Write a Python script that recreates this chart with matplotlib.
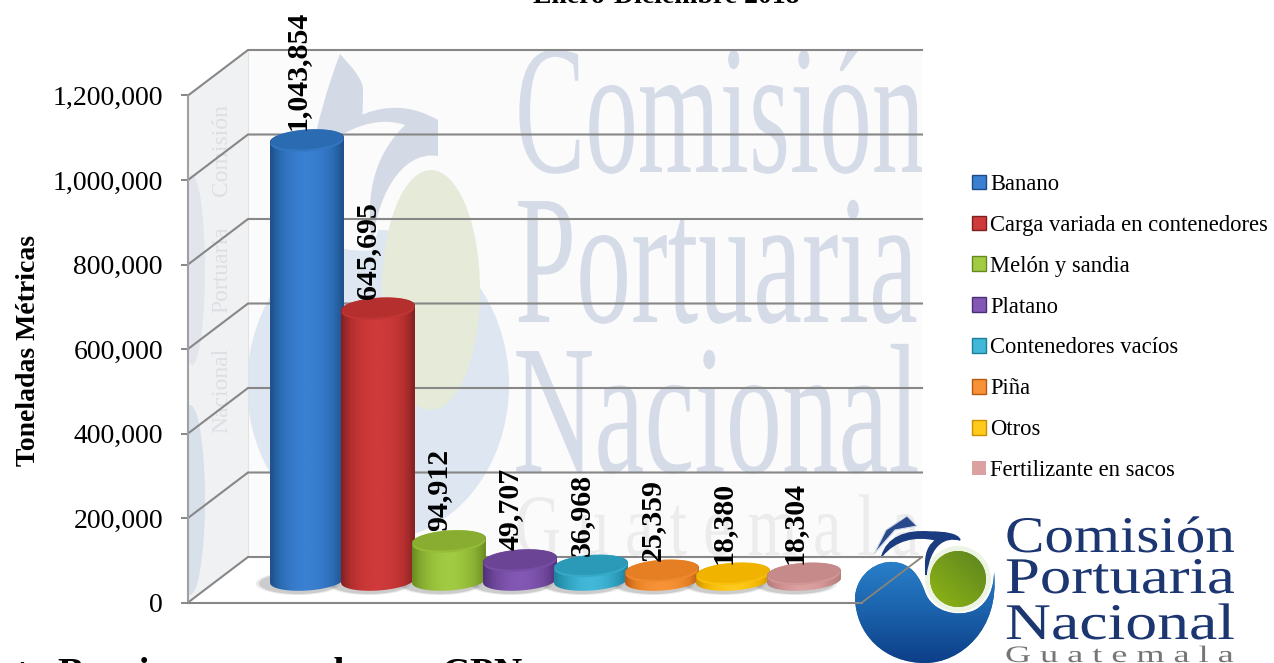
import numpy as np
import matplotlib
matplotlib.use("Agg")
import matplotlib.pyplot as plt
from matplotlib.colors import LinearSegmentedColormap, to_rgb
from matplotlib.patches import Circle, Ellipse, Patch, PathPatch, Polygon
from matplotlib.path import Path
from matplotlib.patheffects import AbstractPathEffect
from matplotlib.transforms import Affine2D, IdentityTransform

categories = ["Banano", "Carga variada en contenedores", "Melón y sandia", "Platano",
              "Contenedores vacíos", "Piña", "Otros", "Fertilizante en sacos"]
values = [1043854, 645695, 94912, 49707, 36968, 25359, 18380, 18304]
y_ticks = [0, 200000, 400000, 600000, 800000, 1000000, 1200000]

edge_colors = ["#1d4c85", "#7c2020", "#67881f", "#4c2e78", "#1b7f9a", "#b65812", "#c98f00", "#b07c7c"]
mid_colors = ["#3a80d2", "#cf3a3a", "#a0cb42", "#8358b4", "#42b8d8", "#f79336", "#ffca1c", "#dba0a0"]
cap_colors = ["#2b6bb2", "#b52f2f", "#88ad30", "#6b4496", "#2b9ab8", "#e67f23", "#f0b400", "#c78a8a"]

W, H = 1274, 663
FONT = "Liberation Serif"
GRID = "#878787"
DEPTH_X, DEPTH_Y = 60, 45.5   # back wall offset in pixels
FLOOR_Y = 22                  # bars stand this far behind the front edge
BAR_A, BAR_B = 37, 10         # ellipse radii of a cylinder
TILT = np.radians(4)


class Squeeze(AbstractPathEffect):
    """Stretches text horizontally about its left anchor."""
    def __init__(self, sx, x0):
        super().__init__()
        self.sx, self.x0 = sx, x0

    def draw_path(self, renderer, gc, tpath, affine, rgbFace=None):
        extra = Affine2D().translate(-self.x0, 0).scale(self.sx, 1).translate(self.x0, 0)
        renderer.draw_path(gc, tpath, affine + extra, rgbFace)


def px(x, y):
    return x, H - y


def add_px(artist_cls, *args, clip=None, **kwargs):
    patch = artist_cls(*args, transform=IdentityTransform(), clip_on=False, **kwargs)
    ax.add_artist(patch)
    if clip is not None:
        patch.set_clip_on(True)
        patch.set_clip_box(None)
        patch.set_clip_path(clip)
    return patch


def line_px(xs, ys, **kwargs):
    ax.plot(xs, [H - y for y in ys], transform=IdentityTransform(), clip_on=False, **kwargs)


def wide_text(x, y, s, size, width_scale, color, zorder=1.3, clip=None, **kwargs):
    t = ax.text(x, H - y, s, fontsize=size, family=FONT, color=color, zorder=zorder,
                va="baseline", ha="left", transform=IdentityTransform(), clip_on=False, **kwargs)
    t.set_path_effects([Squeeze(width_scale, x)])
    if clip is not None:
        t.set_clip_on(True)
        t.set_clip_box(None)
        t.set_clip_path(clip)
    return t


def curve(points, **kwargs):
    codes = [Path.MOVETO] + [Path.CURVE4] * (len(points) - 1)
    return add_px(PathPatch, Path([px(*p) for p in points], codes), **kwargs)


def ellipse_pts(cx, cy, start, stop):
    t = np.linspace(start, stop, 50)
    xs = BAR_A * np.cos(t)
    ys = BAR_B * np.sin(t)
    return np.column_stack([cx + xs * np.cos(TILT) - ys * np.sin(TILT),
                            cy + xs * np.sin(TILT) + ys * np.cos(TILT)])


def gradient_fill(array, cmap, box, shape, zorder):
    im = ax.imshow(array, cmap=cmap, aspect="auto", extent=box,
                   transform=IdentityTransform(), zorder=zorder)
    im.set_clip_box(fig.bbox)
    im.set_clip_path(shape)
    return im


fig = plt.figure(figsize=(W / 100, H / 100), dpi=100, facecolor="white")
ax = fig.add_axes([188 / W, (H - 602.5) / H, 674 / W, 507 / H], zorder=2)
ax.patch.set_visible(False)
xlim = ((188 - 307) / 71, (862 - 307) / 71)
ylim = (0, 1200000)
x_pos = np.arange(len(values))

# walls and floor
back_wall = add_px(Polygon, [px(248, 50), px(922, 50), px(922, 557), px(248, 557)],
                   facecolor="#fbfbfc", edgecolor="none", zorder=1.2)
left_wall = add_px(Polygon, [px(188, 95), px(248, 50), px(248, 557), px(188, 602)],
                   facecolor="#f0f1f3", edgecolor="none", zorder=1.2)
add_px(Polygon, [px(188, 602), px(248, 557), px(922, 557), px(862, 602)],
       facecolor="white", edgecolor="none", zorder=1.2)

# pale watermark on the walls
add_px(Ellipse, px(378, 385), 262, 310, facecolor="#dde6f1", edgecolor="none", zorder=1.25, clip=back_wall)
curve([(248, 50), (330, 50), (430, 130), (500, 240),
       (440, 150), (400, 150), (372, 250),
       (340, 255), (300, 230), (248, 250),
       (248, 200), (248, 100), (248, 50)], facecolor="#fbfbfc", edgecolor="none", zorder=1.26)
add_px(Ellipse, px(431, 290), 98, 240, facecolor="#e6ebd9", edgecolor="none", zorder=1.3)
curve([(340, 54), (350, 65), (362, 78), (363, 88),
       (363, 100), (363, 110), (362, 118),
       (350, 128), (330, 140), (310, 160),
       (318, 120), (328, 85), (340, 54)], facecolor="#d3dae6", edgecolor="none", zorder=1.3)
curve([(318, 150), (350, 110), (395, 95), (438, 120),
       (438, 130), (438, 145), (438, 156),
       (400, 150), (375, 200), (372, 250),
       (366, 200), (370, 160), (405, 125),
       (375, 115), (345, 130), (318, 150)], facecolor="#d3dae6", edgecolor="none", zorder=1.3)
add_px(Ellipse, px(190, 500), 30, 190, facecolor="#d8e0ea", edgecolor="none", zorder=1.25, clip=left_wall)
add_px(Ellipse, px(192, 270), 26, 190, facecolor="#e2e6ec", edgecolor="none", zorder=1.25, clip=left_wall)
for wy, word in [(150, "Comisión"), (270, "Portuaria"), (390, "Nacional")]:
    ax.text(222, H - wy, word, rotation=90, fontsize=17, family=FONT, color="#dcdfe3",
            ha="center", va="center", zorder=1.3, transform=IdentityTransform(), clip_on=False)

wide_text(515, 172, "Comisión", 133, 0.57, "#d5dce8", clip=back_wall)
wide_text(515, 322, "Portuaria", 133, 0.595, "#d5dce8", clip=back_wall)
wide_text(513, 472, "Nacional", 133, 0.61, "#d5dce8", clip=back_wall)
wide_text(515, 555, "G u a t e m a l a", 63, 0.73, "#ececec", clip=back_wall)

# bottom right logo, the chart lines run over it
logo_grad = LinearSegmentedColormap.from_list("logo", ["#2a83cc", "#1c63ad", "#0d3f88"])
logo_body = curve([(855, 596), (858, 572), (878, 561), (893, 562),
                   (912, 563), (920, 578), (925, 592),
                   (932, 612), (958, 618), (975, 610),
                   (990, 602), (994, 585), (994, 572),
                   (1000, 630), (960, 663), (925, 663),
                   (885, 663), (855, 635), (855, 596)], facecolor="#1c63ad", edgecolor="none", zorder=1.4)
gradient_fill(np.linspace(0, 1, 64).reshape(-1, 1), logo_grad, (855, 1000, H - 663, H - 555), logo_body, 1.41)
add_px(Circle, px(958, 579), 33, facecolor="#eef4e4", edgecolor="none", zorder=1.42)
ball = add_px(Circle, px(958, 579), 28, facecolor="#6f9a1c", edgecolor="none", zorder=1.43)
ball_grad = LinearSegmentedColormap.from_list("ball", ["#5c8420", "#8fb514"])
ball_x, ball_y = np.meshgrid(np.linspace(0, 1, 32), np.linspace(0, 1, 32))
gradient_fill(1 - ball_x * 0.5 - (1 - ball_y) * 0.5, ball_grad, (930, 986, H - 607, H - 551), ball, 1.44)
curve([(882, 556), (887, 538), (905, 530), (930, 532),
       (945, 532), (958, 534), (960, 540),
       (945, 536), (930, 544), (926, 575),
       (925, 560), (925, 548), (936, 540),
       (915, 535), (895, 540), (882, 556)], facecolor="#1a3b80", edgecolor="#1a3b80", lw=1, zorder=1.42)
add_px(Polygon, [px(874, 554), px(886, 530), px(907, 516), px(917, 526), px(895, 530)],
       facecolor="#2a4a8c", edgecolor="#cfd8e8", lw=0.8, zorder=1.42)
wide_text(1005, 552, "Comisión", 37, 1.15, "#1c3672", zorder=1.45)
wide_text(1005, 593, "Portuaria", 37, 1.22, "#1c3672", zorder=1.45)
wide_text(1005, 639, "Nacional", 37, 1.24, "#1c3672", zorder=1.45)
wide_text(1005, 662, "G u a t e m a l a", 17, 1.53, "#757575", zorder=1.45)

ax.set_xlim(*xlim)
ax.set_ylim(*ylim)
bar_tr = ax.transData + Affine2D().translate(0, FLOOR_Y)

# wall lines, taken from the y scale
for tick in y_ticks:
    x0, y0 = ax.transData.transform((xlim[0], tick))
    ax.plot([x0, x0 + DEPTH_X, 922], [y0, y0 + DEPTH_Y, y0 + DEPTH_Y], color=GRID, lw=1.5,
            transform=IdentityTransform(), clip_on=False, zorder=1.6, solid_joinstyle="miter")
line_px([188, 188], [95.5, 602.5], color="#a0a0a0", lw=1.5, zorder=1.6)
line_px([248, 248], [50, 557], color="#e2e2e2", lw=0.8, zorder=1.55)
line_px([862, 922], [602.5, 557], color="#8a8378", lw=1.3, zorder=1.6)

# cylinders
width_data = 74 / 71
bars = ax.bar(x_pos, values, width=width_data, transform=bar_tr, color=mid_colors)
for i, (bar, value) in enumerate(zip(bars, values)):
    z = 3 + i
    cx, base = bar_tr.transform((i, 0))
    _, top = bar_tr.transform((i, value))
    for grow, alpha in [(10, 0.12), (4, 0.2)]:
        add_px(Ellipse, (cx - 9, base - 3), 2 * BAR_A + grow, 2 * BAR_B + grow * 0.3,
               facecolor="#555555", edgecolor="none", alpha=alpha, zorder=2.5)
    outline = np.vstack([ellipse_pts(cx, base, np.pi, 2 * np.pi), ellipse_pts(cx, top, 0, np.pi)])
    shape = add_px(Polygon, outline, facecolor="none", edgecolor="none", zorder=z)
    bar.set_zorder(z)
    bar.set_clip_path(shape)
    cmap = LinearSegmentedColormap.from_list("c", [edge_colors[i], cap_colors[i], mid_colors[i]], N=128)
    grad = np.sin(np.linspace(0, np.pi, 128)) ** 0.8
    im = ax.imshow(grad.reshape(1, -1), cmap=cmap, aspect="auto", vmin=0, vmax=1,
                   extent=(i - width_data / 2, i + width_data / 2, -40000, value + 40000),
                   transform=bar_tr, zorder=z + 0.1)
    im.set_clip_box(fig.bbox)
    im.set_clip_path(shape)
    rim_color = 0.5 * np.array(to_rgb(mid_colors[i])) + 0.5 * np.array(to_rgb(cap_colors[i]))
    add_px(Ellipse, (cx, top - 2), 2 * BAR_A - 1, 2 * BAR_B, angle=np.degrees(TILT),
           facecolor=rim_color, edgecolor="none", zorder=z + 0.2, clip=shape)
    add_px(Ellipse, (cx, top), 2 * BAR_A - 1, 2 * BAR_B - 0.5, angle=np.degrees(TILT),
           facecolor=cap_colors[i], edgecolor="none", zorder=z + 0.3)
    ax.annotate(f"{value:,}", (i, value), xytext=(-10, FLOOR_Y + 9), textcoords="offset pixels",
                rotation=90, ha="center", va="bottom", fontsize=21.5, fontweight="bold",
                family=FONT, annotation_clip=False, zorder=20)

ax.set_xlim(*xlim)
ax.set_ylim(*ylim)

# axis
ax.set_xticks([])
ax.set_yticks(y_ticks)
ax.set_yticklabels([f"{v:,}" for v in y_ticks], family=FONT, fontsize=20)
ax.tick_params(axis="y", length=5, width=1.4, color=GRID, pad=13)
for name in ["top", "right", "left"]:
    ax.spines[name].set_visible(False)
ax.spines["bottom"].set_color(GRID)
ax.spines["bottom"].set_linewidth(1.5)
ax.set_ylabel("Toneladas Métricas", family=FONT, fontweight="bold", fontsize=20)
ax.yaxis.set_label_coords((41 - 188) / 674, (602.5 - 350) / 507)

# legend
handles = [Patch(facecolor=m, edgecolor=e, lw=1) for m, e in zip(mid_colors, edge_colors)]
handles[-1] = Patch(facecolor=mid_colors[-1], edgecolor="none")
fig.legend(handles, categories, loc="center left", bbox_to_anchor=(972 / W, 1 - 327.5 / H), frameon=False,
           prop={"family": FONT, "size": 16.3}, labelspacing=0.88, handlelength=0.6, handleheight=0.6,
           handletextpad=0.2, borderpad=0, borderaxespad=0)

# titles cut by the page edges
fig.text(666 / W, 1 - 3 / H, "Enero-Diciembre 2018", family=FONT, fontweight="bold", fontsize=20,
         ha="center", va="baseline")
fig.text(522 / W, 1 - 685 / H, "Puerto Barrios procesado por CPN", family=FONT, fontweight="bold",
         fontsize=28.3, ha="right", va="baseline")

fig.savefig("out.png", dpi=100)
